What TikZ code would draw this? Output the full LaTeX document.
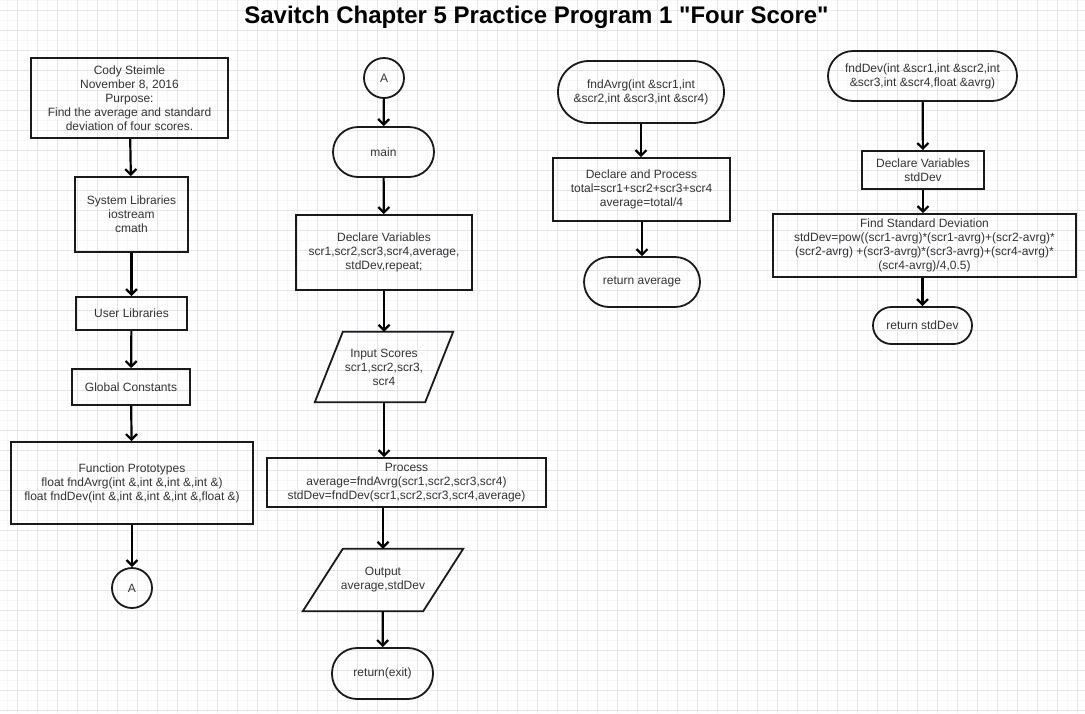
\documentclass[tikz,border=0pt]{standalone}
\usepackage{fontspec}
\setmainfont{Liberation Sans}
\newfontfamily\titlefont{Liberation Sans}[Ligatures=TeXOff]
\usetikzlibrary{arrows.meta}
\definecolor{gridmin}{HTML}{F5F5FA}
\definecolor{gridmaj}{HTML}{E4E4EE}
\definecolor{txt}{HTML}{333333}
\definecolor{edge}{HTML}{1A1A1A}
\begin{document}
\begin{tikzpicture}[x=1pt,y=-1pt,
  every node/.style={font=\fontsize{12}{14}\selectfont, text=txt, align=center, inner sep=0pt},
  proc/.style={draw=edge, line width=1.8pt, rectangle, minimum width=#1},
  term/.style={draw=edge, line width=1.8pt, rectangle, rounded corners=#1},
  conn/.style={draw=edge, line width=1.8pt, circle, minimum size=40pt},
  iobox/.style={rectangle, minimum width=#1},
  para/.style={draw=edge, line width=1.8pt, line join=miter},
  flow/.style={draw=black, line width=2.2pt, -{Straight Barb[length=5.5pt,width=11pt]}},
]
\useasboundingbox (0,0) rectangle (1085,713);
\fill[white] (0,0) rectangle (1085,713);
\foreach \gx in {7,17,...,1085} \draw[gridmin, line width=0.6pt] (\gx,0) -- (\gx,713);
\foreach \gy in {0,10,...,713} \draw[gridmin, line width=0.6pt] (0,\gy) -- (1085,\gy);
\foreach \gx in {17,37,...,1085} \draw[gridmaj, line width=0.7pt] (\gx,0) -- (\gx,713);
\foreach \gy in {10,30,...,713} \draw[gridmaj, line width=0.7pt] (0,\gy) -- (1085,\gy);

% title
\node[font=\titlefont\fontsize{24}{28}\selectfont\bfseries, text=black] (title) at (536.5,17) {Savitch Chapter 5 Practice Program 1 "Four Score"};

% column 1
\node[proc=197pt, minimum height=80pt] (cody) at (129.5,98) {Cody Steimle\\November 8, 2016\\Purpose:\\Find the average and standard\\deviation of four scores.};
\node[proc=113pt, minimum height=75pt] (syslib) at (131.5,214.5) {System Libraries\\iostream\\cmath};
\node[proc=111pt, minimum height=33pt] (uslib) at (131.5,313.5) {User Libraries};
\node[proc=118pt, minimum height=36pt] (glob) at (131,387) {Global Constants};
\node[proc=242pt, minimum height=82pt] (proto) at (132,483) {Function Prototypes\\float fndAvrg(int \&,int \&,int \&,int \&)\\float fndDev(int \&,int \&,int \&,int \&,float \&)};
\node[conn] (a1) at (132,588) {A};
\draw[flow] (cody) -- (syslib);
\draw[flow] (syslib) -- (uslib);
\draw[flow] (uslib) -- (glob);
\draw[flow] (glob) -- (proto);
\draw[flow] (proto) -- (a1);

% column 2
\node[conn] (a2) at (384,78) {A};
\node[term=25pt, minimum width=101pt, minimum height=50pt] (main) at (383.5,152) {main};
\node[proc=176pt, minimum height=75pt] (decl) at (384,252.5) {Declare Variables\\scr1,scr2,scr3,scr4,average,\\stdDev,repeat;};
\node[iobox=138pt, minimum height=70pt] (inp) at (384,367) {Input Scores\\scr1,scr2,scr3,\\scr4};
\draw[para] ([xshift=28pt]inp.north west) -- (inp.north east) -- ([xshift=-28pt]inp.south east) -- (inp.south west) -- cycle;
\node[proc=279pt, minimum height=49pt] (proc) at (406.5,482.5) {Process\\average=fndAvrg(scr1,scr2,scr3,scr4)\\stdDev=fndDev(scr1,scr2,scr3,scr4,average)};
\node[iobox=160pt, minimum height=62pt] (outp) at (383,580) {Output\\average,stdDev};
\draw[para] ([xshift=40pt]outp.north west) -- (outp.north east) -- ([xshift=-40pt]outp.south east) -- (outp.south west) -- cycle;
\node[term=25pt, minimum width=101pt, minimum height=51pt] (ret) at (382.5,673.5) {return(exit)};
\draw[flow] (a2) -- (main);
\draw[flow] (main) -- (decl);
\draw[flow] (decl) -- (inp);
\draw[flow] (inp) -- (inp |- proc.north);
\draw[flow] (proc.south -| outp) -- (outp);
\draw[flow] (outp) -- (ret);

% column 3
\node[term=31pt, minimum width=166pt, minimum height=62pt] (favg) at (641,92) {fndAvrg(int \&scr1,int\\\&scr2,int \&scr3,int \&scr4)};
\node[proc=177pt, minimum height=63pt] (dproc) at (641.5,189.5) {Declare and Process\\total=scr1+scr2+scr3+scr4\\average=total/4};
\node[term=25pt, minimum width=116pt, minimum height=50pt] (retavg) at (642,282) {return average};
\draw[flow] (favg) -- (favg |- dproc.north);
\draw[flow] (dproc.south -| retavg) -- (retavg);

% column 4
\node[term=25pt, minimum width=189pt, minimum height=50pt] (fdev) at (922.5,76) {fndDev(int \&scr1,int \&scr2,int\\\&scr3,int \&scr4,float \&avrg)};
\node[proc=122pt, minimum height=38pt] (dvar) at (923,170) {Declare Variables\\stdDev};
\node[proc=303pt, minimum height=63pt] (fsd) at (924.5,245.5) {Find Standard Deviation\\stdDev=pow((scr1-avrg)*(scr1-avrg)+(scr2-avrg)*\\(scr2-avrg) +(scr3-avrg)*(scr3-avrg)+(scr4-avrg)*\\(scr4-avrg)/4,0.5)};
\node[term=18.5pt, minimum width=99pt, minimum height=37pt] (retdev) at (922.5,325.5) {return stdDev};
\draw[flow] (fdev) -- (dvar);
\draw[flow] (dvar) -- (dvar |- fsd.north);
\draw[flow] (fsd.south -| retdev) -- (retdev);
\end{tikzpicture}
\end{document}
